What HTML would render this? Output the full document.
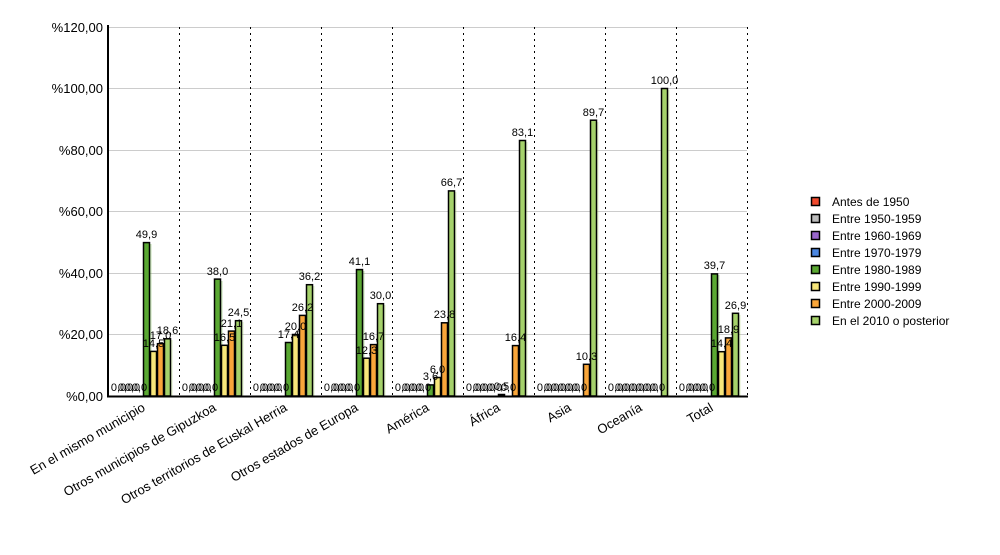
<!DOCTYPE html>
<html><head><meta charset="utf-8"><style>
html,body{margin:0;padding:0;background:#fff;}
svg text{font-family:"Liberation Sans",Arial,sans-serif;}
</style></head><body>
<svg width="1000" height="550" xmlns="http://www.w3.org/2000/svg">
<rect width="1000" height="550" fill="#fff"/>
<g stroke="#ccc" stroke-width="1">
<line x1="108" y1="27.5" x2="747" y2="27.5"/>
<line x1="108" y1="88.5" x2="747" y2="88.5"/>
<line x1="108" y1="150.5" x2="747" y2="150.5"/>
<line x1="108" y1="211.5" x2="747" y2="211.5"/>
<line x1="108" y1="273.5" x2="747" y2="273.5"/>
<line x1="108" y1="334.5" x2="747" y2="334.5"/>
</g>
<g stroke="#000" stroke-width="1" stroke-dasharray="2,4">
<line x1="179.5" y1="27" x2="179.5" y2="396"/>
<line x1="250.5" y1="27" x2="250.5" y2="396"/>
<line x1="321.5" y1="27" x2="321.5" y2="396"/>
<line x1="392.5" y1="27" x2="392.5" y2="396"/>
<line x1="463.5" y1="27" x2="463.5" y2="396"/>
<line x1="534.5" y1="27" x2="534.5" y2="396"/>
<line x1="605.5" y1="27" x2="605.5" y2="396"/>
<line x1="676.5" y1="27" x2="676.5" y2="396"/>
<line x1="747.5" y1="27" x2="747.5" y2="396"/>
</g>
<g font-size="13" text-anchor="end" fill="#000">
<text x="103" y="32">%120,00</text>
<text x="103" y="93">%100,00</text>
<text x="103" y="155">%80,00</text>
<text x="103" y="216">%60,00</text>
<text x="103" y="278">%40,00</text>
<text x="103" y="339">%20,00</text>
<text x="103" y="401">%0,00</text>
</g>
<g opacity="0.35">
<rect x="145.5" y="244" width="6" height="152" fill="#5aa832"/>
<rect x="152.5" y="353" width="6" height="43" fill="#f7e67a"/>
<rect x="159.5" y="345" width="6" height="51" fill="#f9a63a"/>
<rect x="166.5" y="340" width="6" height="56" fill="#a5d26a"/>
<rect x="216.5" y="281" width="6" height="115" fill="#5aa832"/>
<rect x="223.5" y="347" width="6" height="49" fill="#f7e67a"/>
<rect x="230.5" y="333" width="6" height="63" fill="#f9a63a"/>
<rect x="237.5" y="322" width="6" height="74" fill="#a5d26a"/>
<rect x="287.5" y="344" width="6" height="52" fill="#5aa832"/>
<rect x="294.5" y="336" width="6" height="60" fill="#f7e67a"/>
<rect x="301.5" y="317" width="6" height="79" fill="#f9a63a"/>
<rect x="308.5" y="286" width="6" height="110" fill="#a5d26a"/>
<rect x="358.5" y="271" width="6" height="125" fill="#5aa832"/>
<rect x="365.5" y="360" width="6" height="36" fill="#f7e67a"/>
<rect x="372.5" y="346" width="6" height="50" fill="#f9a63a"/>
<rect x="379.5" y="305" width="6" height="91" fill="#a5d26a"/>
<rect x="450.5" y="192" width="6" height="204" fill="#a5d26a"/>
<rect x="521.5" y="142" width="6" height="254" fill="#a5d26a"/>
<rect x="592.5" y="122" width="6" height="274" fill="#a5d26a"/>
<rect x="663.5" y="90" width="6" height="306" fill="#a5d26a"/>
<rect x="713.5" y="275" width="6" height="121" fill="#5aa832"/>
<rect x="734.5" y="315" width="6" height="81" fill="#a5d26a"/>
</g>
<g stroke="#000" stroke-width="1.5">
<rect x="143.5" y="242.6" width="6" height="153.4" fill="#5aa832"/>
<rect x="150.5" y="351.4" width="6" height="44.6" fill="#f7e67a"/>
<rect x="157.5" y="343.7" width="6" height="52.3" fill="#f9a63a"/>
<rect x="164.5" y="338.8" width="6" height="57.2" fill="#a5d26a"/>
<rect x="214.5" y="279.1" width="6" height="116.9" fill="#5aa832"/>
<rect x="221.5" y="345.3" width="6" height="50.7" fill="#f7e67a"/>
<rect x="228.5" y="331.1" width="6" height="64.9" fill="#f9a63a"/>
<rect x="235.5" y="320.7" width="6" height="75.3" fill="#a5d26a"/>
<rect x="285.5" y="342.5" width="6" height="53.5" fill="#5aa832"/>
<rect x="292.5" y="334.5" width="6" height="61.5" fill="#f7e67a"/>
<rect x="299.5" y="315.4" width="6" height="80.6" fill="#f9a63a"/>
<rect x="306.5" y="284.7" width="6" height="111.3" fill="#a5d26a"/>
<rect x="356.5" y="269.6" width="6" height="126.4" fill="#5aa832"/>
<rect x="363.5" y="358.2" width="6" height="37.8" fill="#f7e67a"/>
<rect x="370.5" y="344.6" width="6" height="51.4" fill="#f9a63a"/>
<rect x="377.5" y="303.7" width="6" height="92.3" fill="#a5d26a"/>
<rect x="427.5" y="384.9" width="6" height="11.1" fill="#5aa832"/>
<rect x="434.5" y="377.5" width="6" height="18.5" fill="#f7e67a"/>
<rect x="441.5" y="322.8" width="6" height="73.2" fill="#f9a63a"/>
<rect x="448.5" y="190.9" width="6" height="205.1" fill="#a5d26a"/>
<rect x="498.5" y="394.5" width="6" height="1.5" fill="#5aa832"/>
<rect x="512.5" y="345.6" width="6" height="50.4" fill="#f9a63a"/>
<rect x="519.5" y="140.5" width="6" height="255.5" fill="#a5d26a"/>
<rect x="583.5" y="364.3" width="6" height="31.7" fill="#f9a63a"/>
<rect x="590.5" y="120.2" width="6" height="275.8" fill="#a5d26a"/>
<rect x="661.5" y="88.5" width="6" height="307.5" fill="#a5d26a"/>
<rect x="711.5" y="273.9" width="6" height="122.1" fill="#5aa832"/>
<rect x="718.5" y="351.7" width="6" height="44.3" fill="#f7e67a"/>
<rect x="725.5" y="337.9" width="6" height="58.1" fill="#f9a63a"/>
<rect x="732.5" y="313.3" width="6" height="82.7" fill="#a5d26a"/>
</g>
<line x1="108" y1="25" x2="108" y2="397" stroke="#000" stroke-width="2"/>
<line x1="107" y1="396.5" x2="748" y2="396.5" stroke="#000" stroke-width="2"/>
<g font-size="11" text-anchor="middle" fill="#000">
<text x="146.5" y="238">49,9</text><text x="153.5" y="347">14,5</text><text x="160.5" y="339">17,0</text><text x="167.5" y="334">18,6</text>
<text x="217.5" y="275">38,0</text><text x="224.5" y="341">16,5</text><text x="231.5" y="327">21,1</text><text x="238.5" y="316">24,5</text>
<text x="288.5" y="338">17,4</text><text x="295.5" y="330">20,0</text><text x="302.5" y="311">26,2</text><text x="309.5" y="280">36,2</text>
<text x="359.5" y="265">41,1</text><text x="366.5" y="354">12,3</text><text x="373.5" y="340">16,7</text><text x="380.5" y="299">30,0</text>
<text x="430.5" y="380">3,6</text><text x="437.5" y="373">6,0</text><text x="444.5" y="318">23,8</text><text x="451.5" y="186">66,7</text>
<text x="501.5" y="390">0,5</text><text x="515.5" y="341">16,4</text><text x="522.5" y="136">83,1</text>
<text x="586.5" y="360">10,3</text><text x="593.5" y="116">89,7</text>
<text x="664.5" y="84">100,0</text>
<text x="714.5" y="269">39,7</text><text x="721.5" y="347">14,4</text><text x="728.5" y="333">18,9</text><text x="735.5" y="309">26,9</text>
</g>
<g font-size="11" text-anchor="middle" fill="#000">
<text x="118.5" y="391">0,0</text><text x="125.5" y="391">0,0</text><text x="132.5" y="391">0,0</text><text x="139.5" y="391">0,0</text>
<text x="189.5" y="391">0,0</text><text x="196.5" y="391">0,0</text><text x="203.5" y="391">0,0</text><text x="210.5" y="391">0,0</text>
<text x="260.5" y="391">0,0</text><text x="267.5" y="391">0,0</text><text x="274.5" y="391">0,0</text><text x="281.5" y="391">0,0</text>
<text x="331.5" y="391">0,0</text><text x="338.5" y="391">0,0</text><text x="345.5" y="391">0,0</text><text x="352.5" y="391">0,0</text>
<text x="402.5" y="391">0,0</text><text x="409.5" y="391">0,0</text><text x="416.5" y="391">0,0</text><text x="423.5" y="391">0,0</text>
<text x="473.5" y="391">0,0</text><text x="480.5" y="391">0,0</text><text x="487.5" y="391">0,0</text><text x="494.5" y="391">0,0</text><text x="508.5" y="391">0,0</text>
<text x="544.5" y="391">0,0</text><text x="551.5" y="391">0,0</text><text x="558.5" y="391">0,0</text><text x="565.5" y="391">0,0</text><text x="572.5" y="391">0,0</text><text x="579.5" y="391">0,0</text>
<text x="615.5" y="391">0,0</text><text x="622.5" y="391">0,0</text><text x="629.5" y="391">0,0</text><text x="636.5" y="391">0,0</text><text x="643.5" y="391">0,0</text><text x="650.5" y="391">0,0</text><text x="657.5" y="391">0,0</text>
<text x="686.5" y="391">0,0</text><text x="693.5" y="391">0,0</text><text x="700.5" y="391">0,0</text><text x="707.5" y="391">0,0</text>
</g>
<g font-size="13" text-anchor="end" fill="#000">
<text transform="translate(146,410) rotate(-30)">En el mismo municipio</text>
<text transform="translate(217,410) rotate(-30)">Otros municipios de Gipuzkoa</text>
<text transform="translate(288,410) rotate(-30)">Otros territorios de Euskal Herria</text>
<text transform="translate(359,410) rotate(-30)">Otros estados de Europa</text>
<text transform="translate(430,410) rotate(-30)">América</text>
<text transform="translate(501,410) rotate(-30)">África</text>
<text transform="translate(572,410) rotate(-30)">Asia</text>
<text transform="translate(643,410) rotate(-30)">Oceanía</text>
<text transform="translate(714,410) rotate(-30)">Total</text>
</g>
<g stroke="#000" stroke-width="1.5">
<rect x="811.5" y="197.5" width="8" height="8" fill="#f04a2e"/>
<rect x="811.5" y="214.5" width="8" height="8" fill="#bbbbbb"/>
<rect x="811.5" y="231.5" width="8" height="8" fill="#9966cc"/>
<rect x="811.5" y="248.5" width="8" height="8" fill="#4a86e0"/>
<rect x="811.5" y="265.5" width="8" height="8" fill="#5aa832"/>
<rect x="811.5" y="282.5" width="8" height="8" fill="#f7e67a"/>
<rect x="811.5" y="299.5" width="8" height="8" fill="#f9a63a"/>
<rect x="811.5" y="316.5" width="8" height="8" fill="#a5d26a"/>
</g>
<g font-size="12" fill="#000">
<text x="832" y="206">Antes de 1950</text>
<text x="832" y="223">Entre 1950-1959</text>
<text x="832" y="240">Entre 1960-1969</text>
<text x="832" y="257">Entre 1970-1979</text>
<text x="832" y="274">Entre 1980-1989</text>
<text x="832" y="291">Entre 1990-1999</text>
<text x="832" y="308">Entre 2000-2009</text>
<text x="832" y="325">En el 2010 o posterior</text>
</g>
</svg>
</body></html>
